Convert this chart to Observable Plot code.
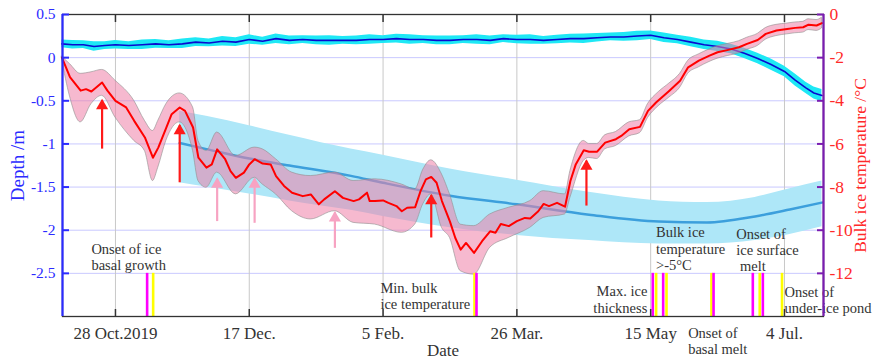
<!DOCTYPE html>
<html><head><meta charset="utf-8">
<script src="https://cdn.jsdelivr.net/npm/d3@7"></script>
<script src="https://cdn.jsdelivr.net/npm/@observablehq/plot@0.6"></script>
<style>body{margin:0;background:#fff}svg{display:block}</style>
</head><body><div id="chart"></div>
<script>
// ---- x axis ----
const xDomain = ["2019-10-08T05:00Z", "2020-07-18T14:00Z"];
const xTickDates = ["2019-10-28", "2019-12-17", "2020-02-05", "2020-03-26", "2020-05-15", "2020-07-04"];
const xTickLabels = ["28 Oct.2019", "17 Dec.", "5 Feb.", "26 Mar.", "15 May", "4 Jul."];
// ---- left axis (depth, m) ----
const depthTicks = [0.5, 0, -0.5, -1, -1.5, -2, -2.5];
const depthGrid = [0, -0.5, -1, -1.5, -2, -2.5];
// ---- right axis (bulk ice temperature, °C) ----
const tempTicks = [0, -2, -4, -6, -8, -10, -12];

// ---- ice surface (depth, m) ----
const surfDates = ["2019-10-08","2019-10-12","2019-10-16","2019-10-20","2019-10-24","2019-10-28","2019-11-02","2019-11-07","2019-11-12","2019-11-17","2019-11-22","2019-11-27","2019-12-02","2019-12-07","2019-12-12","2019-12-17","2019-12-22","2019-12-27","2020-01-01","2020-01-06","2020-01-11","2020-01-16","2020-01-21","2020-01-26","2020-01-31","2020-02-05","2020-02-10","2020-02-15","2020-02-20","2020-02-25","2020-03-01","2020-03-06","2020-03-11","2020-03-16","2020-03-21","2020-03-26","2020-03-31","2020-04-05","2020-04-10","2020-04-15","2020-04-20","2020-04-25","2020-04-30","2020-05-05","2020-05-10","2020-05-15","2020-05-20","2020-05-25","2020-05-30","2020-06-04","2020-06-09","2020-06-14","2020-06-19","2020-06-24","2020-06-29","2020-07-04","2020-07-08","2020-07-12","2020-07-15","2020-07-18"];
const surfMean = [0.16,0.15,0.15,0.13,0.14,0.15,0.14,0.15,0.16,0.15,0.16,0.18,0.17,0.19,0.18,0.21,0.19,0.22,0.2,0.21,0.2,0.2,0.2,0.2,0.21,0.21,0.22,0.21,0.21,0.2,0.2,0.21,0.21,0.2,0.22,0.21,0.21,0.2,0.21,0.22,0.22,0.23,0.24,0.24,0.25,0.26,0.23,0.21,0.18,0.15,0.13,0.1,0.05,-0.01,-0.08,-0.16,-0.26,-0.35,-0.41,-0.44];
const surfSpread = [0.045,0.05,0.045,0.055,0.045,0.05,0.045,0.055,0.05,0.045,0.055,0.05,0.045,0.055,0.05,0.055,0.045,0.055,0.05,0.045,0.05,0.055,0.045,0.05,0.055,0.045,0.05,0.055,0.045,0.05,0.05,0.045,0.055,0.05,0.045,0.05,0.055,0.045,0.05,0.05,0.055,0.05,0.045,0.05,0.055,0.05,0.055,0.05,0.055,0.055,0.06,0.055,0.06,0.06,0.065,0.06,0.07,0.065,0.07,0.07];

// ---- ice bottom (depth, m) ----
const iceDates = ["2019-11-21","2019-12-01","2019-12-17","2020-01-01","2020-01-24","2020-02-05","2020-03-01","2020-03-26","2020-04-22","2020-05-18","2020-06-05","2020-06-23","2020-07-06","2020-07-18"];
const iceMean  = [-0.99,-1.06,-1.17,-1.25,-1.37,-1.45,-1.60,-1.70,-1.82,-1.90,-1.91,-1.84,-1.76,-1.68];
const iceUpper = [-0.62,-0.68,-0.79,-0.90,-1.06,-1.13,-1.29,-1.42,-1.56,-1.66,-1.68,-1.62,-1.52,-1.43];
const iceLower = [-1.45,-1.50,-1.58,-1.66,-1.77,-1.84,-1.97,-2.06,-2.12,-2.16,-2.16,-2.12,-2.05,-1.96];

// ---- bulk ice temperature (°C) ----
const tempDates = ["2019-10-08","2019-10-11","2019-10-15","2019-10-17","2019-10-19","2019-10-23","2019-10-25","2019-10-28","2019-11-01","2019-11-04","2019-11-08","2019-11-11","2019-11-13","2019-11-16","2019-11-18","2019-11-21","2019-11-23","2019-11-26","2019-11-28","2019-12-01","2019-12-03","2019-12-05","2019-12-08","2019-12-10","2019-12-12","2019-12-15","2019-12-17","2019-12-19","2019-12-22","2019-12-25","2019-12-27","2019-12-30","2020-01-02","2020-01-06","2020-01-09","2020-01-12","2020-01-14","2020-01-18","2020-01-21","2020-01-25","2020-01-27","2020-01-30","2020-01-31","2020-02-02","2020-02-05","2020-02-07","2020-02-10","2020-02-12","2020-02-14","2020-02-17","2020-02-19","2020-02-21","2020-02-23","2020-02-25","2020-02-27","2020-03-01","2020-03-03","2020-03-05","2020-03-07","2020-03-10","2020-03-13","2020-03-16","2020-03-18","2020-03-20","2020-03-23","2020-03-26","2020-03-29","2020-03-31","2020-04-03","2020-04-05","2020-04-07","2020-04-10","2020-04-13","2020-04-15","2020-04-17","2020-04-20","2020-04-22","2020-04-25","2020-04-28","2020-05-02","2020-05-04","2020-05-07","2020-05-11","2020-05-14","2020-05-17","2020-05-22","2020-05-26","2020-05-29","2020-06-02","2020-06-06","2020-06-09","2020-06-13","2020-06-17","2020-06-20","2020-06-24","2020-06-27","2020-07-01","2020-07-05","2020-07-08","2020-07-11","2020-07-13","2020-07-16","2020-07-18"];
const tempMean = [-2.0,-2.9,-3.53,-3.46,-3.57,-3.15,-3.53,-4.0,-4.31,-4.93,-5.7,-6.64,-6.17,-5.24,-4.62,-4.31,-4.47,-5.24,-6.64,-7.1,-6.95,-6.25,-6.71,-7.26,-7.57,-7.33,-6.95,-6.71,-6.91,-6.95,-7.49,-7.95,-8.26,-8.42,-8.34,-8.8,-8.57,-8.19,-8.5,-8.65,-8.57,-8.26,-8.65,-8.65,-8.62,-8.73,-8.88,-9.12,-8.96,-8.93,-8.19,-7.64,-7.53,-7.8,-8.65,-9.6,-10.36,-10.9,-10.59,-11.05,-10.51,-10.05,-10.12,-9.71,-9.81,-9.58,-9.43,-9.46,-9.12,-8.78,-8.88,-8.73,-8.91,-7.72,-6.95,-6.29,-6.36,-6.36,-5.94,-5.78,-5.63,-5.32,-5.21,-4.47,-4.08,-3.53,-3.07,-2.45,-2.14,-1.91,-1.75,-1.64,-1.52,-1.36,-1.18,-0.9,-0.74,-0.67,-0.62,-0.59,-0.47,-0.51,-0.4];
const tbandDates = ["2019-10-08","2019-10-11","2019-10-15","2019-10-19","2019-10-23","2019-10-28","2019-11-04","2019-11-08","2019-11-11","2019-11-13","2019-11-16","2019-11-21","2019-11-26","2019-11-28","2019-12-01","2019-12-05","2019-12-12","2019-12-19","2019-12-22","2019-12-27","2020-01-02","2020-01-09","2020-01-18","2020-01-25","2020-02-02","2020-02-12","2020-02-17","2020-02-20","2020-02-23","2020-02-27","2020-03-01","2020-03-05","2020-03-10","2020-03-16","2020-03-23","2020-03-31","2020-04-05","2020-04-13","2020-04-15","2020-04-20","2020-04-22","2020-04-25","2020-04-28","2020-05-02","2020-05-07","2020-05-11","2020-05-14","2020-05-18","2020-05-22","2020-05-26","2020-05-29","2020-06-02","2020-06-06","2020-06-09","2020-06-13","2020-06-17","2020-06-20","2020-06-24","2020-06-27","2020-07-01","2020-07-05","2020-07-08","2020-07-11","2020-07-13","2020-07-16","2020-07-18"];
const tbandUpper = [-1.95,-2.3,-2.75,-2.68,-2.57,-3.07,-4.0,-4.93,-5.4,-4.93,-4.16,-3.66,-4.31,-5.86,-6.33,-5.47,-6.56,-6.17,-6.25,-6.71,-7.33,-7.49,-7.33,-7.72,-7.64,-7.88,-8.11,-7.2,-6.76,-7.41,-8.34,-9.74,-9.81,-9.27,-8.96,-8.65,-8.19,-8.34,-7.26,-5.86,-6.0,-6.0,-5.6,-5.45,-5.0,-4.9,-4.15,-3.6,-3.2,-2.75,-2.15,-1.85,-1.62,-1.47,-1.36,-1.24,-1.08,-0.9,-0.63,-0.48,-0.42,-0.37,-0.34,-0.22,-0.26,-0.15];
const tbandLower = [-2.05,-3.8,-5.0,-4.16,-3.77,-4.78,-5.86,-6.33,-7.72,-7.1,-5.86,-5.0,-6.33,-7.72,-8.03,-7.33,-8.34,-7.57,-7.88,-8.34,-9.12,-9.5,-9.12,-9.66,-9.74,-10.12,-9.74,-8.8,-8.34,-9.89,-10.36,-11.9,-12.06,-10.82,-10.36,-9.89,-9.43,-9.27,-8.5,-6.79,-6.65,-6.7,-6.25,-6.1,-5.65,-5.5,-4.8,-4.25,-3.85,-3.4,-2.75,-2.45,-2.2,-2.05,-1.92,-1.8,-1.64,-1.46,-1.17,-1.0,-0.92,-0.87,-0.84,-0.72,-0.76,-0.65];

// ---- event markers ----
const eventDates = ["2019-11-08T20:00Z","2019-11-11T02:00Z","2020-03-10T04:00Z","2020-03-10T22:00Z","2020-05-15T19:00Z","2020-05-17T01:00Z","2020-05-19T16:00Z","2020-05-20T22:00Z","2020-06-06T17:00Z","2020-06-07T12:00Z","2020-06-22T04:00Z","2020-06-24T18:00Z","2020-06-25T22:00Z","2020-07-03T02:00Z"];
const eventKinds = ["m","y","y","m","m","y","m","y","y","m","m","y","m","y"];

// ---- arrows (depth units) ----
const arrowDates = ["2019-10-23","2019-11-21","2019-12-05","2019-12-19","2020-01-18","2020-02-23","2020-04-21"];
const arrowTip  = [-0.5,-0.79,-1.41,-1.41,-1.80,-1.60,-1.20];
const arrowTail = [-1.06,-1.45,-1.90,-1.92,-2.21,-2.09,-1.72];
const arrowKinds = ["red","red","pink","pink","pink","red","red"];

// ---- annotations ----
const noteDates = ["2019-10-19","2020-02-04","2020-05-13T18:00Z","2020-05-17","2020-06-16","2020-07-04","2020-05-29"];
const noteDepth = [-2.31,-2.76,-2.80,-2.21,-2.23,-2.81,-3.28];
const noteText = ["Onset of ice\nbasal growth","Min. bulk\nice temperature","Max. ice\nthickness","Bulk ice\ntemperature\n>-5°C","Onset of\nice surface\n\u00a0melt","Onset of\nunder-ice pond","Onset of\nbasal melt"];
const noteAnchor = ["start","start","end","start","start","start","start"];

// ---- build tables ----
const pd = s => s.length === 10 ? new Date(s + "T00:00:00Z") : new Date(s);
const toDepth = t => (t + 2) / 4;   // right axis mapping onto left scale
const surf = surfDates.map((d, i) => ({date: pd(d), m: surfMean[i], lo: surfMean[i] - surfSpread[i], hi: surfMean[i] + surfSpread[i]}));
const ice = iceDates.map((d, i) => ({date: pd(d), m: iceMean[i], lo: iceLower[i], hi: iceUpper[i]}));
const temp = tempDates.map((d, i) => ({date: pd(d), t: tempMean[i]}));
const tband = tbandDates.map((d, i) => ({date: pd(d), hi: tbandUpper[i], lo: tbandLower[i]}));
const events = eventDates.map((d, i) => ({date: pd(d), kind: eventKinds[i]}));
const arrows = arrowDates.map((d, i) => ({date: pd(d), tip: arrowTip[i], tail: arrowTail[i], kind: arrowKinds[i]}));
const notes = noteDates.map((d, i) => ({date: pd(d), y: noteDepth[i], text: noteText[i], anchor: noteAnchor[i]}));
const xTicks = xTickDates.map(pd);
const xLabel = new Map(xTicks.map((d, i) => [+d, xTickLabels[i]]));
const tempTickPos = tempTicks.map(toDepth);
const tempLabel = new Map(tempTicks.map(t => [toDepth(t), String(t)]));

const BLUE = "#2b2bff", PURPLE = "#7a1cb0", RED = "#ff2a2a", TXT = "#333";
const arrowColor = k => k === "red" ? "#ff1a1a" : "#f7a3c2";
const evColor = k => k === "m" ? "#ff00ff" : "#ffff00";
const noteStyle = {x: "date", y: "y", text: "text", lineAnchor: "middle", fill: TXT, fontSize: 14.5, lineHeight: 1.12};

const chart = Plot.plot({
  width: 873, height: 361,
  marginLeft: 62, marginRight: 50, marginTop: 14, marginBottom: 45,
  style: {fontFamily: "'Liberation Serif', 'Times New Roman', serif", fontSize: "16px", background: "#fff"},
  x: {type: "utc", domain: xDomain.map(pd)},
  y: {domain: [-3, 0.5]},
  marks: [
    Plot.gridY(depthGrid, {stroke: "#c9c9ff", strokeOpacity: 1, strokeWidth: 1}),
    Plot.gridX(xTicks, {stroke: "#c8c8c8", strokeOpacity: 1, strokeWidth: 1}),
    // ice bottom
    Plot.areaY(ice, {x: "date", y1: "lo", y2: "hi", fill: "#aee7f8", curve: "monotone-x"}),
    Plot.lineY(ice, {x: "date", y: "m", stroke: "#3c9fdc", strokeWidth: 2.5, curve: "monotone-x"}),
    // ice surface
    Plot.areaY(surf, {x: "date", y1: "lo", y2: "hi", fill: "#1ee8f5"}),
    Plot.lineY(surf, {x: "date", y: "m", stroke: "#0a0ad0", strokeWidth: 1.6}),
    // bulk temperature
    Plot.areaY(tband, {x: "date", y1: d => toDepth(d.lo), y2: d => toDepth(d.hi), fill: "#ee7fa8", fillOpacity: 0.55, stroke: "#8f8f8f", strokeOpacity: 0.6, strokeWidth: 1, curve: "monotone-x"}),
    Plot.lineY(temp, {x: "date", y: d => toDepth(d.t), stroke: "#ff0000", strokeWidth: 2}),
    // arrows
    Plot.ruleX(arrows, {x: "date", y1: "tail", y2: "tip", stroke: d => arrowColor(d.kind), strokeWidth: 2.2}),
    Plot.dot(arrows, {x: "date", y: "tip", symbol: "triangle", r: 4.5, fill: d => arrowColor(d.kind), dy: 5}),
    // events
    Plot.ruleX(events, {x: "date", y1: -3, y2: -2.5, stroke: d => evColor(d.kind), strokeWidth: 2.6}),
    // annotations
    Plot.text(notes, {...noteStyle, filter: d => d.anchor === "start", textAnchor: "start"}),
    Plot.text(notes, {...noteStyle, filter: d => d.anchor === "end", textAnchor: "end"}),
    // frame & spines
    Plot.frame({stroke: "#333", strokeWidth: 1.3}),
    Plot.ruleX([xDomain[0]].map(pd), {stroke: BLUE, strokeWidth: 2.2}),
    Plot.ruleX([xDomain[1]].map(pd), {stroke: PURPLE, strokeWidth: 2.2}),
    // axes
    Plot.axisX(xTicks, {anchor: "bottom", tickSize: -7, tickPadding: 17, tickFormat: d => xLabel.get(+d), color: TXT, stroke: "#333", strokeWidth: 1.5, fontSize: 17}),
    Plot.axisX(xTicks, {anchor: "top", tickSize: -7, tickFormat: () => "", stroke: "#333", strokeWidth: 1.5, label: null}),
    Plot.axisY(depthTicks, {anchor: "left", tickSize: -7, tickPadding: 14, tickFormat: d => String(d), color: BLUE, strokeWidth: 2, label: null, fontSize: 15.5}),
    Plot.axisY(tempTickPos, {anchor: "right", tickSize: -7, tickPadding: 13, tickFormat: d => tempLabel.get(d), fill: RED, stroke: PURPLE, strokeWidth: 2, label: null, fontSize: 17.5}),
    // axis titles
    Plot.text(["Depth /m"], {frameAnchor: "left", dx: -45, rotate: -90, textAnchor: "middle", lineAnchor: "middle", fill: BLUE, fontSize: 19}),
    Plot.text(["Bulk ice temperature /°C"], {frameAnchor: "right", dx: 37, rotate: -90, textAnchor: "middle", lineAnchor: "middle", fill: RED, fontSize: 17.5}),
    Plot.text(["Date"], {frameAnchor: "bottom", dy: 34, textAnchor: "middle", lineAnchor: "middle", fill: TXT, fontSize: 17})
  ]
});
document.getElementById("chart").append(chart);
</script>
</body></html>
